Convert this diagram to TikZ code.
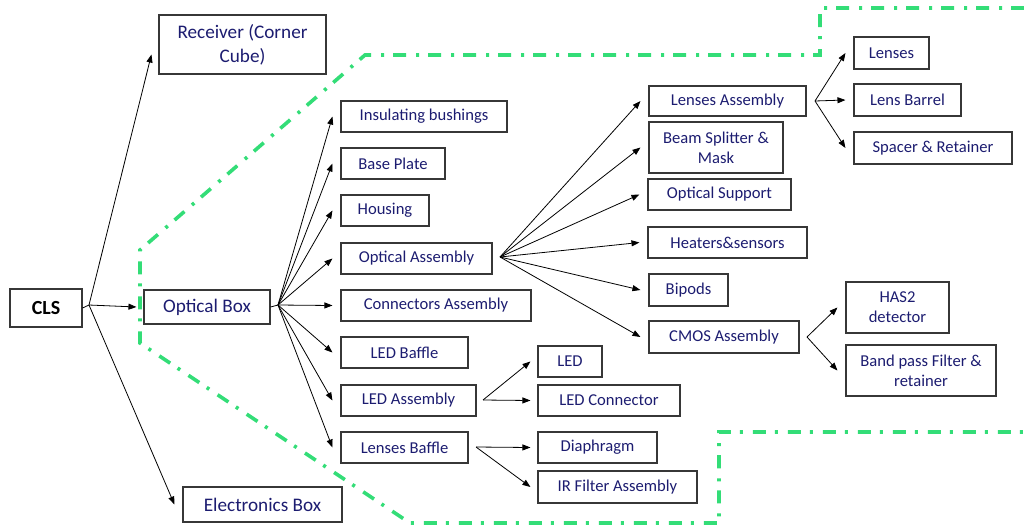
\documentclass[tikz,border=0pt]{standalone}
\usepackage{fontspec}
\setmainfont{Carlito}
\usetikzlibrary{arrows.meta}
\definecolor{navy}{RGB}{28,28,112}
\definecolor{boxgray}{RGB}{55,55,55}
\definecolor{zone}{RGB}{51,221,119}
\tikzset{
  box/.style={draw=boxgray, line width=1.1pt, inner sep=0pt, align=center, text=navy,
    font=\fontsize{16.6}{19.7}\selectfont},
  bigbox/.style={box, font=\fontsize{19.2}{24}\selectfont},
  arr/.style={-{Triangle[length=8pt,width=6pt]}, line width=0.8pt, black},
  zoneline/.style={draw=zone, line width=3.6pt, dash pattern=on 13pt off 9pt on 3pt off 10pt}
}
\begin{document}
\begin{tikzpicture}[x=1pt,y=-1pt]
\useasboundingbox (0,0) rectangle (1024,525);
% green boundary
\draw[zoneline] (1024,8) -- (820,8) -- (820,55) -- (365,55) -- (140,250) -- (140,343) -- (410,523) -- (719,523) -- (719,432) -- (1024,432);
% level 0/1
\node[bigbox, minimum width=167pt, minimum height=59pt] (rec) at (242.5,44.5) {Receiver (Corner\\Cube)};
\node[box, minimum width=72pt, minimum height=38pt, text=black, font=\fontsize{20}{24}\selectfont\bfseries] (cls) at (46,308) {CLS};
\node[bigbox, minimum width=126pt, minimum height=34pt] (ob) at (207,307) {Optical Box};
\node[bigbox, minimum width=159pt, minimum height=35pt] (eb) at (262.5,504.5) {Electronics Box};
% level 2
\node[box, minimum width=166pt, minimum height=31pt] (ins) at (424,116.5) {Insulating bushings};
\node[box, minimum width=104pt, minimum height=31pt] (bp) at (393,163.5) {Base Plate};
\node[box, minimum width=88pt, minimum height=31pt] (hou) at (385,210.5) {Housing};
\node[box, minimum width=151pt, minimum height=31pt] (oa) at (416.5,258.5) {Optical Assembly};
\node[box, minimum width=190pt, minimum height=31pt] (ca) at (436,305.5) {Connectors Assembly};
\node[box, minimum width=127pt, minimum height=31pt] (lbf) at (404.5,352.5) {LED Baffle};
\node[box, minimum width=135pt, minimum height=31pt] (lea) at (408.5,400.5) {LED Assembly};
\node[box, minimum width=127pt, minimum height=31pt] (lsb) at (404.5,447.5) {Lenses Baffle};
% level 3
\node[box, minimum width=64pt, minimum height=31pt] (led) at (570,361.5) {LED};
\node[box, minimum width=142pt, minimum height=31pt] (lco) at (609,400.5) {LED Connector};
\node[box, minimum width=119pt, minimum height=31pt] (dia) at (597.5,447.5) {Diaphragm};
\node[box, minimum width=159pt, minimum height=32pt] (irf) at (617.5,487) {IR Filter Assembly};
\node[box, minimum width=157pt, minimum height=30pt] (lsa) at (727.5,101) {Lenses Assembly};
\node[box, minimum width=134pt, minimum height=51pt] (bsm) at (716,147.5) {Beam Splitter \&\\Mask};
\node[box, minimum width=143pt, minimum height=31pt] (osu) at (719.5,194.5) {Optical Support};
\node[box, minimum width=159pt, minimum height=31pt] (hts) at (727.5,242.5) {Heaters\&sensors};
\node[box, minimum width=79pt, minimum height=32pt] (bip) at (688.5,290) {Bipods};
\node[box, minimum width=150pt, minimum height=32pt] (cmo) at (724,337) {CMOS Assembly};
% level 4
\node[box, minimum width=103pt, minimum height=51pt] (has) at (897.5,307.5) {HAS2\\detector};
\node[box, minimum width=150pt, minimum height=51pt] (bpf) at (921,370.5) {Band pass Filter \&\\retainer};
\node[box, minimum width=75pt, minimum height=32pt] (lns) at (891.5,53) {Lenses};
\node[box, minimum width=107pt, minimum height=32pt] (lba) at (907.5,100) {Lens Barrel};
\node[box, minimum width=158pt, minimum height=32pt] (spr) at (933,148) {Spacer \& Retainer};
% fan points
\coordinate (f0) at (89,305);
\coordinate (f1) at (278,305);
\coordinate (f2) at (500,257);
\coordinate (f3) at (815,101);
\coordinate (f4) at (807,337);
\coordinate (f5) at (483,400);
\coordinate (f6) at (476,447);
% connectors
\draw[line width=0.8pt] (cls.east) -- (f0);
\draw[arr] (f0) -- ([xshift=-7pt,yshift=-10pt]rec.west);
\draw[arr] (f0) -- ([xshift=-7pt]ob.west);
\draw[arr] (f0) -- ([xshift=-8pt]eb.west);
\draw[line width=0.8pt] (ob.east) -- (f1);
\foreach \n in {ins,bp,hou,oa,ca,lbf,lea,lsb}
  \draw[arr] (f1) -- ([xshift=-8pt]\n.west);
\foreach \n in {lsa,bsm,osu,hts,bip,cmo}
  \draw[arr] (f2) -- ([xshift=-8pt]\n.west);
\foreach \n in {lns,lba,spr}
  \draw[arr] (f3) -- ([xshift=-8pt]\n.west);
\foreach \n in {has,bpf}
  \draw[arr] (f4) -- ([xshift=-8pt]\n.west);
\foreach \n in {led,lco}
  \draw[arr] (f5) -- ([xshift=-7pt]\n.west);
\foreach \n in {dia,irf}
  \draw[arr] (f6) -- ([xshift=-7pt]\n.west);
\end{tikzpicture}
\end{document}
